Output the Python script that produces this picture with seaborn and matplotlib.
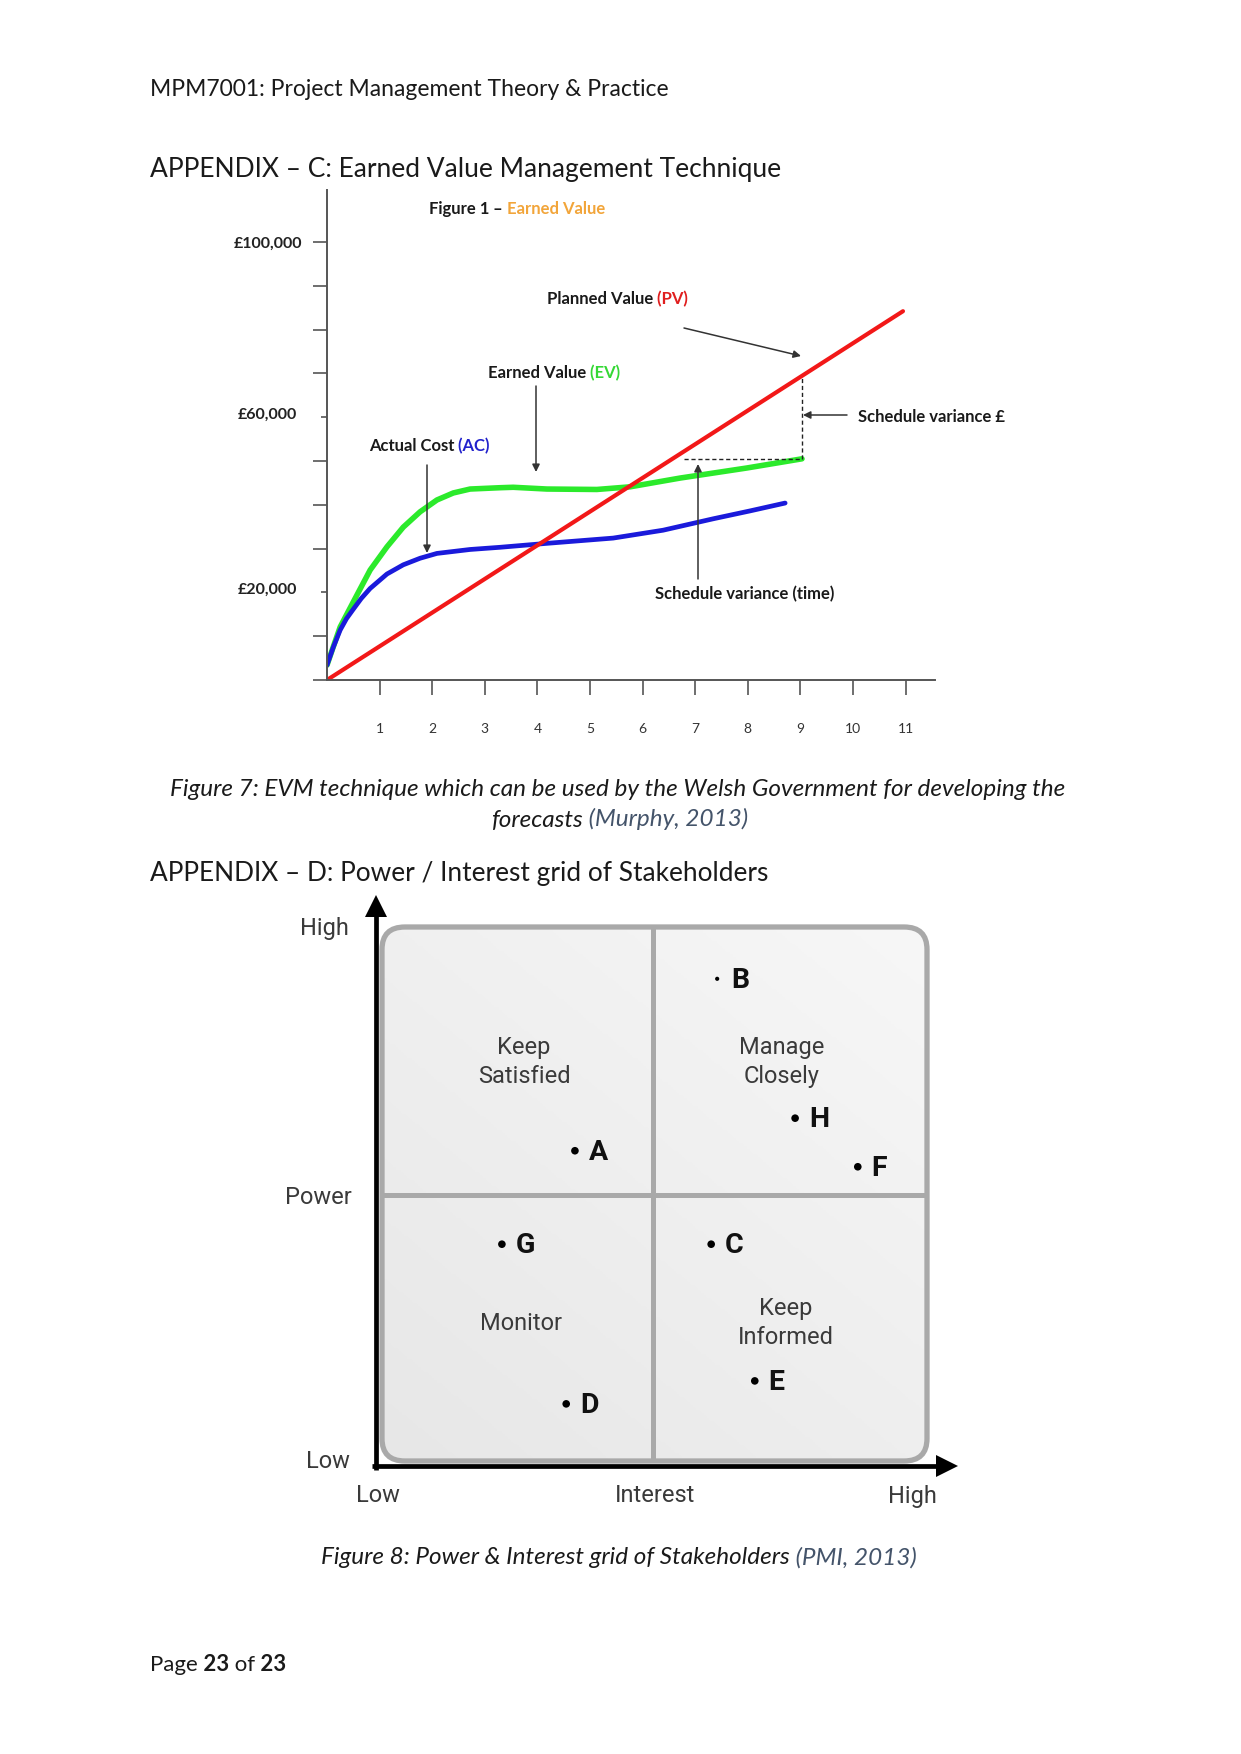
import numpy as np
import pandas as pd
import matplotlib
matplotlib.use("Agg")
import matplotlib.pyplot as plt
import seaborn as sns
from matplotlib.patches import FancyBboxPatch
from matplotlib.colors import LinearSegmentedColormap
from matplotlib.transforms import ScaledTranslation

# ---------------- data ----------------
months = list(range(1, 12))
y_major_k = [0, 10, 30, 40, 50, 70, 80, 90, 100]
y_major_labels = [""] * 8 + ["£100,000"]
y_minor_k = [20, 60]
y_minor_labels = ["£20,000", "£60,000"]

pv_x = [0, 10.95]
pv_y = [0, 84.2]
ev_x = [0, 0.12, 0.25, 0.49, 0.82, 1.14, 1.45, 1.77, 2.09, 2.40, 2.72, 3.29, 3.54, 4.18, 5.13, 5.76, 6.71, 7.98, 9.03]
ev_y = [3.4, 7.6, 12.1, 17.6, 25.1, 30.4, 34.9, 38.4, 41.1, 42.7, 43.6, 43.9, 44.0, 43.6, 43.5, 44.1, 46.1, 48.4, 50.5]
ac_x = [0, 0.12, 0.25, 0.37, 0.49, 0.65, 0.82, 1.14, 1.45, 1.77, 2.09, 2.72, 3.29, 4.18, 5.44, 6.39, 7.34, 8.04, 8.71]
ac_y = [3.4, 7.5, 11.4, 14.0, 16.0, 18.6, 20.9, 24.2, 26.3, 27.8, 28.9, 29.8, 30.3, 31.2, 32.4, 34.2, 36.8, 38.6, 40.4]

stakeholders = ["A", "B", "C", "D", "E", "F", "G", "H"]
interest = [3.54, 6.15, 6.04, 3.38, 6.84, 8.73, 2.20, 7.58]
power = [5.81, 9.03, 4.06, 1.07, 1.50, 5.51, 4.06, 6.42]
dot_sizes = [30, 9, 30, 30, 30, 30, 30, 30]
quadrant_labels = ["Keep\nSatisfied", "Manage\nClosely", "Monitor", "Keep\nInformed"]

# ---------------- style ----------------
sns.set_style("white")
plt.rcParams["font.family"] = ["Lato", "DejaVu Sans"]
GRID_FONT = ["Roboto", "DejaVu Sans"]

W, H = 1241, 1754
fig = plt.figure(figsize=(W / 100, H / 100), dpi=100)
fig.patch.set_facecolor("white")

page = fig.add_axes([0, 0, 1, 1])
page.set_xlim(0, W)
page.set_ylim(H, 0)
page.axis("off")


def chain(ax, x, y, parts, size, style="normal", family=None):
    t = None
    kw = {}
    if family is not None:
        kw["family"] = family
    for s, c, w in parts:
        if t is None:
            t = ax.text(x, y, s, color=c, fontsize=size, fontweight=w, fontstyle=style,
                        va="center", ha="left", **kw)
        else:
            t = ax.annotate(s, xy=(1, 0), xycoords=t, va="bottom", ha="left", color=c,
                            fontsize=size, fontweight=w, fontstyle=style,
                            annotation_clip=False, **kw)
    return t


TXT = "#1a1a1a"
CITE = "#44546A"
chain(page, 150, 90, [("MPM7001: Project Management Theory & Practice", TXT, "normal")], 16.5)
chain(page, 150, 169, [("APPENDIX – C: Earned Value Management Technique", TXT, "normal")], 19)
page.text(618, 789, "Figure 7: EVM technique which can be used by the Welsh Government for developing the",
          ha="center", va="center", fontsize=17.5, fontstyle="italic", color=TXT)
chain(page, 491, 820, [("forecasts", TXT, "normal"), (" (Murphy, 2013)", CITE, "normal")], 17.5, style="italic")
chain(page, 150, 874, [("APPENDIX – D: Power / Interest grid of Stakeholders", TXT, "normal")], 18.9)
chain(page, 321, 1558, [("Figure 8: Power & Interest grid of Stakeholders", TXT, "normal"),
                        (" (PMI, 2013)", CITE, "normal")], 17.5, style="italic")
chain(page, 150, 1665, [("Page", TXT, "normal"), (" 23", TXT, "bold"), (" of", TXT, "normal"),
                        (" 23", TXT, "bold")], 16)

# ---------------- EVM chart ----------------
X0, Y0, PXX, PXY = 327, 680, 52.6, 4.38
x_right, y_top = 1030, 190
ax = fig.add_axes([X0 / W, 1 - Y0 / H, (x_right - X0) / W, (Y0 - y_top) / H])
ax.set_facecolor("none")
ax.set_xlim(0, (x_right - X0) / PXX)
ax.set_ylim(0, (Y0 - y_top) / PXY)
for s in ["top", "right"]:
    ax.spines[s].set_visible(False)
for s in ["left", "bottom"]:
    ax.spines[s].set_color("#555555")
    ax.spines[s].set_linewidth(1.4)
ax.spines["bottom"].set_bounds(0, (935 - X0) / PXX)
ax.spines["left"].set_bounds(0, (Y0 - y_top) / PXY)

ax.set_xticks(months, labels=[str(m) for m in months])
ax.set_yticks(y_major_k, labels=y_major_labels)
ax.set_yticks(y_minor_k, labels=y_minor_labels, minor=True)
ax.tick_params(axis="x", which="both", bottom=True, direction="out", length=10.8, width=1.2,
               color="#555555", pad=20, labelsize=10, labelcolor="#333333")
ax.tick_params(axis="y", which="both", left=True)
ax.tick_params(axis="y", which="major", direction="out", length=10, width=1.2, color="#555555",
               pad=8, labelsize=11.5)
ax.tick_params(axis="y", which="minor", direction="out", length=4.3, width=1.2, color="#555555",
               pad=17, labelsize=11.5)
for t in ax.get_yticklabels() + ax.get_yticklabels(minor=True):
    t.set_fontweight("bold")
    t.set_color("#222222")
for t in ax.get_yticklabels(minor=True):
    t.set_transform(t.get_transform() + ScaledTranslation(0, 4 / 100, fig.dpi_scale_trans))

sns.lineplot(x=ev_x, y=ev_y, ax=ax, color="#2BEA2B", lw=4.0, sort=False, estimator=None,
             solid_joinstyle="round", solid_capstyle="round")
sns.lineplot(x=ac_x, y=ac_y, ax=ax, color="#1A1ADB", lw=3.4, sort=False, estimator=None,
             solid_joinstyle="round", solid_capstyle="round")
sns.lineplot(x=pv_x, y=pv_y, ax=ax, color="#F21818", lw=3.0, sort=False, estimator=None)


def d(px, py):
    return ((px - X0) / PXX, (Y0 - py) / PXY)


ap = dict(arrowstyle="-|>", color="#333333", lw=1.1, mutation_scale=11, shrinkA=0, shrinkB=0)
BLK = "#1a1a1a"
FS = 12
chain(ax, *d(429, 209), [("Figure 1", BLK, "bold"), (" – ", BLK, "bold"), ("Earned Value", "#F2A53A", "bold")], FS)
chain(ax, *d(547, 299), [("Planned Value", BLK, "bold"), (" (PV)", "#E01E1E", "bold")], FS)
chain(ax, *d(488, 373), [("Earned Value", BLK, "bold"), (" (EV)", "#35D835", "bold")], FS)
chain(ax, *d(369, 446), [("Actual Cost", BLK, "bold"), (" (AC)", "#2222CC", "bold")], FS)
chain(ax, *d(858, 417), [("Schedule variance £", BLK, "bold")], FS)
ax.text(*d(745, 594), "Schedule variance (time)", ha="center", va="center", fontsize=FS,
        fontweight="bold", color=BLK)

ax.annotate("", xy=d(801, 356), xytext=d(684, 328), arrowprops=ap)
ax.annotate("", xy=d(536, 472), xytext=d(536, 386), arrowprops=ap)
ax.annotate("", xy=d(427, 553), xytext=d(427, 465), arrowprops=ap)
ax.annotate("", xy=d(803, 415), xytext=d(847, 415), arrowprops=ap)
ax.annotate("", xy=d(698, 464), xytext=d(698, 579), arrowprops=ap)
xs_dash = [d(684, 459)[0], ev_x[-1]]
ax.plot(xs_dash, [ev_y[-1], ev_y[-1]], ls=(0, (3, 2)), color="#222222", lw=1.0)
pv_at = np.interp(ev_x[-1], pv_x, pv_y)
ax.plot([ev_x[-1], ev_x[-1]], [ev_y[-1], pv_at], ls=(0, (3, 2)), color="#222222", lw=1.0)

# ---------------- Power / Interest grid ----------------
GX0, GY0, GSX, GSY = 382, 1461, 54.5, 53.4
gl, gr, gt, gb = 300, 980, 880, 1520
ax2 = fig.add_axes([gl / W, 1 - gb / H, (gr - gl) / W, (gb - gt) / H])
ax2.axis("off")


def g(px, py):
    return ((px - GX0) / GSX, (GY0 - py) / GSY)


box = FancyBboxPatch((0, 0), 10, 10, boxstyle="round,pad=0,rounding_size=0.42",
                     fc="none", ec="#A9A9A9", lw=3.8, zorder=4)
ax2.add_patch(box)
xx, yy = np.meshgrid(np.linspace(0, 1, 200), np.linspace(0, 1, 200))
grad = 0.55 * yy + 0.45 * xx
cm = LinearSegmentedColormap.from_list("gr", ["#E7E7E7", "#F7F7F7"])
im = ax2.imshow(grad, extent=(0, 10, 0, 10), origin="lower", cmap=cm, aspect="auto", zorder=1)
im.set_clip_path(box)
ax2.plot([4.97, 4.97], [0, 10], color="#A9A9A9", lw=3.6, zorder=3, solid_capstyle="butt")
ax2.plot([0, 10], [4.98, 4.98], color="#A9A9A9", lw=3.6, zorder=3, solid_capstyle="butt")

# axes arrows
vx = g(376, 0)[0]
hy = g(0, 1466)[1]
ax2.plot([vx, vx], [g(0, 1470)[1], g(0, 915)[1]], color="black", lw=3.4, zorder=5, solid_capstyle="butt")
ax2.plot([g(372, 0)[0], g(940, 0)[0]], [hy, hy], color="black", lw=3.4, zorder=5, solid_capstyle="butt")
ax2.plot([vx], [g(0, 906)[1]], marker="^", markersize=16, color="black", mew=0, zorder=6)
ax2.plot([g(947, 0)[0]], [hy], marker=">", markersize=16, color="black", mew=0, zorder=6)

LAB = "#3a3a3a"
GFS = 17
for txt, (px, py) in zip(["High", "Power", "Low"], [(324, 929), (318, 1198), (328, 1461)]):
    ax2.text(*g(px, py), txt, ha="center", va="center", fontsize=GFS, color=LAB, family=GRID_FONT)
for txt, (px, py) in zip(["Low", "Interest", "High"], [(378, 1496), (655, 1496), (912, 1496)]):
    ax2.text(*g(px, py), txt, ha="center", va="center", fontsize=GFS, color=LAB, family=GRID_FONT)
for txt, (px, py) in zip(quadrant_labels, [(524, 1062), (782, 1062), (521, 1323), (786, 1323)]):
    ax2.text(*g(px, py), txt, ha="center", va="center", fontsize=GFS, color=LAB, family=GRID_FONT,
             linespacing=1.35, zorder=6)

sns.scatterplot(x=interest, y=power, ax=ax2, s=dot_sizes, color="black", linewidth=0, zorder=7)
for lab, xi, yi in zip(stakeholders, interest, power):
    ax2.annotate(lab, xy=(xi, yi), xytext=(10, -1), textcoords="offset points", ha="left", va="center",
                 fontsize=20.5, fontweight="bold", color="#111111", family=GRID_FONT, zorder=7)

ax2.set_xlim(g(gl, 0)[0], g(gr, 0)[0])
ax2.set_ylim(g(0, gb)[1], g(0, gt)[1])

fig.savefig("out.png", dpi=100, facecolor="white")
